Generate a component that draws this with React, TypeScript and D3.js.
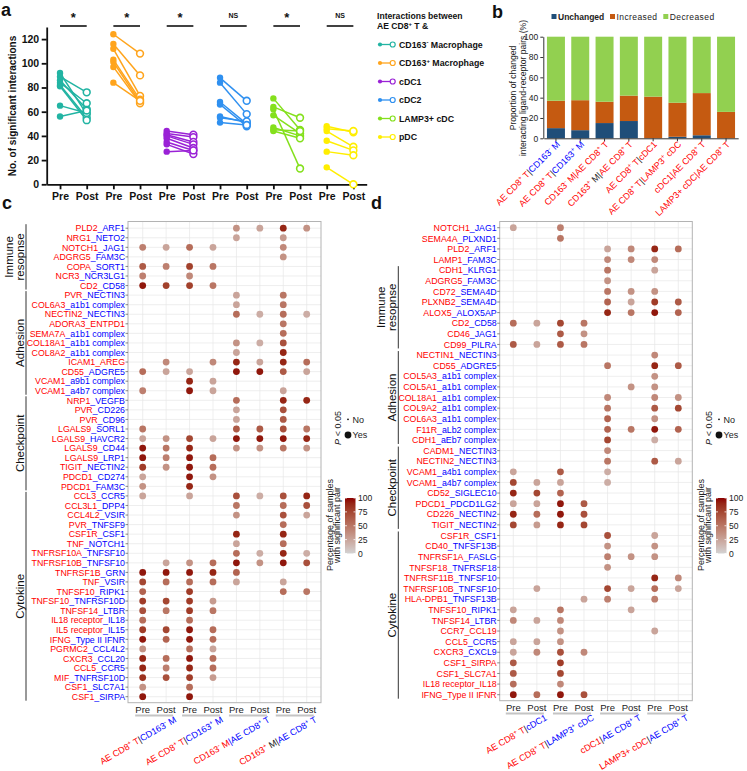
import React, { useEffect, useRef } from "react";
import * as d3 from "d3";

const W = 747;
const H = 771;
const FONT = "'Liberation Sans', Arial, Helvetica, sans-serif";
const RED = "#ff0000";
const BLUE = "#0000ff";

// ---- panel a ----
const groupNames = ["CD163^- Macrophage", "CD163^+ Macrophage", "cDC1", "cDC2", "LAMP3+ cDC", "pDC"];
const groupColors = ["#22b4a3", "#ffa41c", "#9a22d6", "#2f90f0", "#84e01c", "#ffee00"];
const preValues = [
  [92, 89, 86, 84, 82, 81, 65, 56],
  [124, 116, 112, 103, 101, 97, 84],
  [44, 42, 41, 40, 38, 35, 33, 27],
  [88, 84, 68, 66, 56, 55, 51],
  [71, 64, 62, 57, 47, 45, 44],
  [48, 46, 44, 36, 27, 14],
];
const postValues = [
  [58, 76, 62, 67, 55, 53, 59, 61],
  [108, 90, 73, 70, 68, 67, 69],
  [41, 39, 35, 33, 30, 28, 25, 28],
  [69, 58, 50, 48, 51, 52, 49],
  [45, 55, 13, 42, 40, 44, 38],
  [43, 44, 31, 28, 24, 0],
];
const sigLabels = ["*", "*", "*", "NS", "*", "NS"];

// ---- panel b ----
const bLabels = [
  "[r]AE CD8^+ T[k]|[b]CD163^- M",
  "[r]AE CD8^+ T[k]|[b]CD163^+ M",
  "[r]CD163^- M|AE CD8^+ T",
  "[r]CD163^+[k] M|[r]AE CD8^+ T",
  "[r]AE CD8^+ T[k]|[r]cDC1",
  "[r]AE CD8^+ T[k]|[r]LAMP3^+ cDC",
  "[r]cDC1|AE CD8^+ T",
  "[r]LAMP3+ cDC|AE CD8^+ T",
];
const unchanged = [10, 8, 15, 17, 0, 1.5, 3, 0];
const increased = [27, 29.5, 21, 25, 41, 33.5, 41.5, 26];
const decreased = [63, 62.5, 64, 58, 59, 65, 55.5, 74];
const stackKeys = ["Unchanged", "Increased", "Decreased"];
const stackColors = ["#1f4e79", "#c55a11", "#92d050"];

// ---- panel c ----
const cRows = ["PLD2_ARF1", "NRG1_NETO2", "NOTCH1_JAG1", "ADGRG5_FAM3C", "COPA_SORT1", "NCR3_NCR3LG1", "CD2_CD58",
  "PVR_NECTIN3", "COL6A3_a1b1 complex", "NECTIN2_NECTIN3", "ADORA3_ENTPD1", "SEMA7A_a1b1 complex", "COL18A1_a1b1 complex",
  "COL8A2_a1b1 complex", "ICAM1_AREG", "CD55_ADGRE5", "VCAM1_a9b1 complex", "VCAM1_a4b7 complex", "NRP1_VEGFB",
  "PVR_CD226", "PVR_CD96", "LGALS9_SORL1", "LGALS9_HAVCR2", "LGALS9_CD44", "LGALS9_LRP1", "TIGIT_NECTIN2",
  "PDCD1_CD274", "PDCD1_FAM3C", "CCL3_CCR5", "CCL3L1_DPP4", "CCL4L2_VSIR", "PVR_TNFSF9", "CSF1R_CSF1", "TNF_NOTCH1",
  "TNFRSF10A_TNFSF10", "TNFRSF10B_TNFSF10", "TNFRSF1B_GRN", "TNF_VSIR", "TNFSF10_RIPK1", "TNFSF10_TNFRSF10D",
  "TNFSF14_LTBR", "IL18 receptor_IL18", "IL5 receptor_IL15", "IFNG_Type II IFNR", "PGRMC2_CCL4L2", "CXCR3_CCL20",
  "CCL5_CCR5", "MIF_TNFRSF10D", "CSF1_SLC7A1", "CSF1_SIRPA"];
const cAllRed = ["ADORA3_ENTPD1", "ICAM1_AREG"];
// percentage of samples with significant pair, 8 columns (Pre/Post x 4 pairs), 0 = no dot
const cPct = [
  [0, 0, 0, 0, 35, 25, 90, 35],
  [0, 0, 0, 0, 25, 0, 30, 0],
  [45, 25, 55, 25, 0, 0, 40, 0],
  [0, 0, 0, 0, 0, 0, 35, 0],
  [65, 45, 78, 50, 0, 0, 0, 0],
  [45, 0, 40, 0, 0, 0, 0, 0],
  [95, 78, 78, 50, 0, 0, 0, 0],
  [0, 0, 0, 0, 25, 0, 50, 0],
  [0, 0, 0, 0, 25, 0, 50, 0],
  [0, 0, 0, 0, 55, 20, 55, 20],
  [0, 0, 0, 0, 0, 0, 50, 0],
  [0, 0, 0, 0, 0, 0, 55, 0],
  [0, 0, 0, 0, 35, 20, 70, 0],
  [0, 0, 0, 0, 25, 0, 90, 0],
  [0, 40, 0, 40, 90, 25, 90, 55],
  [55, 25, 25, 0, 95, 95, 65, 25],
  [0, 0, 90, 25, 0, 0, 0, 0],
  [45, 0, 95, 25, 0, 0, 25, 0],
  [0, 0, 0, 0, 55, 0, 90, 90],
  [0, 0, 0, 0, 25, 0, 70, 0],
  [0, 0, 0, 0, 25, 0, 65, 0],
  [50, 0, 0, 0, 65, 65, 70, 50],
  [25, 35, 75, 25, 95, 95, 95, 90],
  [95, 50, 90, 0, 35, 35, 50, 35],
  [95, 45, 95, 55, 0, 0, 0, 0],
  [80, 35, 95, 55, 0, 0, 0, 0],
  [25, 0, 95, 35, 0, 0, 0, 0],
  [35, 0, 90, 0, 0, 0, 0, 0],
  [25, 0, 25, 0, 70, 20, 70, 90],
  [0, 0, 0, 0, 50, 0, 55, 70],
  [0, 0, 0, 0, 35, 0, 70, 25],
  [0, 0, 0, 0, 0, 0, 55, 0],
  [0, 0, 0, 0, 90, 0, 90, 0],
  [0, 0, 0, 0, 25, 0, 55, 0],
  [0, 0, 0, 0, 55, 20, 90, 20],
  [0, 25, 35, 55, 95, 35, 95, 70],
  [95, 95, 95, 90, 60, 0, 0, 0],
  [75, 55, 55, 55, 25, 0, 25, 0],
  [60, 0, 80, 0, 0, 0, 55, 50],
  [80, 75, 80, 30, 0, 0, 0, 0],
  [70, 50, 80, 50, 0, 0, 0, 0],
  [55, 0, 55, 0, 0, 0, 0, 0],
  [80, 75, 95, 55, 0, 0, 0, 0],
  [95, 60, 95, 55, 0, 0, 0, 0],
  [35, 0, 55, 25, 0, 0, 0, 0],
  [90, 55, 95, 55, 0, 0, 0, 0],
  [90, 45, 90, 55, 0, 0, 0, 0],
  [85, 70, 80, 30, 0, 0, 0, 0],
  [35, 0, 55, 0, 0, 0, 0, 0],
  [95, 0, 95, 0, 0, 0, 0, 0],
];
const cGroups = [
  { name: ["Immune", "resopnse"], from: 0, to: 6 },
  { name: ["Adhesion"], from: 7, to: 17 },
  { name: ["Checkpoint"], from: 18, to: 27 },
  { name: ["Cytokine"], from: 28, to: 49 },
];
const cColLabels = [
  "[r]AE CD8^+ T[k]|[b]CD163^- M",
  "[r]AE CD8^+ T[k]|[b]CD163^+ M",
  "[r]CD163^- M[b]|AE CD8^+ T",
  "[r]CD163^+[k] M|[b]AE CD8^+ T",
];

// ---- panel d ----
const dRows = ["NOTCH1_JAG1", "SEMA4A_PLXND1", "PLD2_ARF1", "LAMP1_FAM3C", "CDH1_KLRG1", "ADGRG5_FAM3C", "CD72_SEMA4D",
  "PLXNB2_SEMA4D", "ALOX5_ALOX5AP", "CD2_CD58", "CD46_JAG1", "CD99_PILRA", "NECTIN1_NECTIN3", "CD55_ADGRE5",
  "COL5A3_a1b1 complex", "COL5A1_a1b1 complex", "COL18A1_a1b1 complex", "COL9A2_a1b1 complex", "COL6A3_a1b1 complex",
  "F11R_aLb2 complex", "CDH1_aEb7 complex", "CADM1_NECTIN3", "NECTIN2_NECTIN3", "VCAM1_a4b1 complex",
  "VCAM1_a4b7 complex", "CD52_SIGLEC10", "PDCD1_PDCD1LG2", "CD226_NECTIN2", "TIGIT_NECTIN2", "CSF1R_CSF1",
  "CD40_TNFSF13B", "TNFRSF1A_FASLG", "TNFSF18_TNFRSF18", "TNFRSF11B_TNFSF10", "TNFRSF10B_TNFSF10",
  "HLA-DPB1_TNFSF13B", "TNFSF10_RIPK1", "TNFSF14_LTBR", "CCR7_CCL19", "CCL5_CCR5", "CXCR3_CXCL9", "CSF1_SIRPA",
  "CSF1_SLC7A1", "IL18 receptor_IL18", "IFNG_Type II IFNR"];
const dAllRed = ["CCR7_CCL19", "CSF1_SIRPA", "CSF1_SLC7A1", "IL18 receptor_IL18", "IFNG_Type II IFNR"];
const dPct = [
  [25, 0, 45, 0, 0, 0, 0, 0],
  [0, 0, 50, 0, 0, 0, 0, 0],
  [0, 0, 0, 0, 25, 40, 90, 55],
  [0, 0, 0, 0, 40, 40, 40, 0],
  [0, 0, 0, 0, 50, 0, 25, 0],
  [0, 0, 0, 0, 35, 0, 0, 0],
  [0, 0, 0, 0, 50, 35, 35, 0],
  [0, 0, 0, 0, 60, 25, 80, 65],
  [0, 0, 0, 0, 90, 50, 95, 60],
  [55, 25, 75, 50, 0, 0, 0, 0],
  [0, 0, 65, 35, 0, 0, 0, 0],
  [65, 25, 65, 50, 0, 0, 0, 0],
  [0, 0, 0, 0, 0, 0, 40, 0],
  [0, 0, 0, 0, 50, 0, 90, 65],
  [0, 0, 0, 0, 0, 0, 35, 0],
  [0, 0, 0, 0, 0, 35, 35, 0],
  [0, 0, 0, 0, 40, 0, 40, 35],
  [0, 0, 0, 0, 50, 0, 65, 75],
  [0, 0, 0, 0, 60, 0, 35, 0],
  [0, 0, 0, 0, 60, 50, 95, 60],
  [0, 0, 0, 0, 75, 0, 20, 0],
  [0, 0, 0, 0, 40, 0, 0, 0],
  [0, 0, 0, 0, 50, 0, 65, 25],
  [25, 0, 65, 0, 20, 0, 0, 0],
  [75, 25, 25, 0, 20, 0, 0, 0],
  [90, 75, 60, 0, 0, 0, 0, 0],
  [25, 25, 95, 65, 0, 0, 0, 0],
  [90, 55, 95, 70, 0, 0, 0, 0],
  [75, 30, 90, 75, 0, 0, 0, 0],
  [0, 0, 0, 0, 70, 0, 25, 0],
  [0, 0, 0, 0, 35, 0, 35, 0],
  [0, 0, 0, 0, 45, 35, 35, 0],
  [0, 0, 0, 0, 35, 0, 0, 0],
  [0, 0, 0, 0, 0, 0, 90, 40],
  [0, 25, 0, 0, 75, 25, 55, 25],
  [0, 0, 0, 25, 45, 0, 45, 0],
  [25, 0, 50, 0, 0, 25, 0, 0],
  [40, 25, 40, 0, 0, 0, 0, 0],
  [0, 0, 35, 0, 0, 0, 25, 0],
  [25, 25, 35, 0, 0, 0, 0, 0],
  [25, 40, 70, 40, 0, 0, 0, 0],
  [65, 0, 80, 0, 0, 0, 0, 0],
  [65, 0, 75, 0, 0, 0, 0, 0],
  [55, 0, 40, 0, 0, 0, 0, 0],
  [95, 55, 95, 70, 0, 0, 0, 0],
];
const dGroups = [
  { name: ["Immune", "resopnse"], from: 4, to: 11 },
  { name: ["Adhesion"], from: 12, to: 20 },
  { name: ["Checkpoint"], from: 21, to: 28 },
  { name: ["Cytokine"], from: 29, to: 44 },
];
const dColLabels = [
  "[r]AE CD8^+ T[k]|[b]cDC1",
  "[r]AE CD8^+ T[k]|[b]LAMP3^+ cDC",
  "[r]cDC1[k]|[b]AE CD8^+ T",
  "[r]LAMP3+ cDC[k]|[b]AE CD8^+ T",
];
const prePost = ["Pre", "Post"];
const legendTicks = [0, 25, 50, 75, 100];

const pctColor = d3.scaleLinear<string>().domain([0, 100]).range(["#d3d3d3", "#8b0000"]).interpolate(d3.interpolateLab);

// [r] [b] [k] switch colour, ^x makes x a superscript
function addRich(text: any, markup: string, fs: number, defColor = "#222") {
  let color = defColor;
  let raised = false;
  const parts = markup.split(/(\[[rbk]\]|\^.)/).filter((s) => s.length);
  parts.forEach((p) => {
    if (/^\[[rbk]\]$/.test(p)) {
      color = p[1] === "r" ? RED : p[1] === "b" ? BLUE : "#222";
      return;
    }
    if (p[0] === "^") {
      const ts = text.append("tspan").text(p[1]).attr("fill", color).attr("font-size", fs * 0.68);
      if (!raised) ts.attr("dy", -fs * 0.38);
      raised = true;
      return;
    }
    const ts = text.append("tspan").text(p).attr("fill", color);
    if (raised) ts.attr("dy", fs * 0.38);
    raised = false;
  });
}

function drawA(svg: any) {
  const g = svg.append("g");
  const x = d3.scaleLinear().domain([-0.5, 11.5]).range([46.7, 366.7]);
  const y = d3.scaleLinear().domain([0, 130]).range([184.3, 27]);

  const ya = g.append("g").attr("transform", "translate(46.7,0)")
    .call(d3.axisLeft(y).tickValues(d3.range(0, 121, 20)).tickSize(5).tickSizeOuter(0).tickPadding(2.5));
  const xa = g.append("g").attr("transform", "translate(0,184.3)")
    .call(d3.axisBottom(x).tickValues(d3.range(12)).tickFormat((i: any) => prePost[+i % 2]).tickSize(5).tickSizeOuter(0).tickPadding(3));
  [ya, xa].forEach((a) => {
    a.attr("font-family", FONT);
    a.select(".domain").attr("stroke-width", 1.8).attr("stroke", "#111");
    a.selectAll(".tick line").attr("stroke-width", 1.8).attr("stroke", "#111");
    a.selectAll(".tick text").attr("font-size", 10.5).attr("font-weight", "bold").attr("fill", "#111");
  });

  g.append("text")
    .attr("transform", "translate(15.5,106) rotate(-90)")
    .attr("text-anchor", "middle").attr("font-size", 10).attr("font-weight", "bold").attr("fill", "#111")
    .text("No. of significant interactions");

  groupColors.forEach((col, gi) => {
    const x0 = x(gi * 2);
    const x1 = x(gi * 2 + 1);
    const pre = preValues[gi];
    const post = postValues[gi];
    pre.forEach((v, k) => {
      g.append("line").attr("x1", x0).attr("y1", y(v)).attr("x2", x1).attr("y2", y(post[k]))
        .attr("stroke", col).attr("stroke-width", 1.5);
    });
    pre.forEach((v) => {
      g.append("circle").attr("cx", x0).attr("cy", y(v)).attr("r", 3.2).attr("fill", col);
    });
    post.forEach((v) => {
      g.append("circle").attr("cx", x1).attr("cy", y(v)).attr("r", 3.4).attr("fill", "white")
        .attr("stroke", col).attr("stroke-width", 1.6);
    });
    // significance bar
    g.append("line").attr("x1", x0).attr("x2", x1).attr("y1", 26).attr("y2", 26)
      .attr("stroke", "#111").attr("stroke-width", 1.6);
    const star = sigLabels[gi] === "*";
    g.append("text").attr("x", (x0 + x1) / 2).attr("y", star ? 22 : 17.5).attr("text-anchor", "middle")
      .attr("font-size", star ? 13 : 7).attr("font-weight", "bold").attr("fill", "#111").text(sigLabels[gi]);
  });

  // legend
  const lg = svg.append("g").attr("font-family", FONT).attr("font-weight", "bold").attr("fill", "#111");
  lg.append("text").attr("x", 377).attr("y", 19).attr("font-size", 8.6).text("Interactions between");
  addRich(lg.append("text").attr("x", 377).attr("y", 29).attr("font-size", 8.6), "AE CD8^+ T &", 8.6, "#111");
  groupNames.forEach((nm, i) => {
    const yy = 44.5 + i * 18.5;
    lg.append("line").attr("x1", 380).attr("x2", 392.7).attr("y1", yy).attr("y2", yy)
      .attr("stroke", groupColors[i]).attr("stroke-width", 1.3);
    lg.append("circle").attr("cx", 380).attr("cy", yy).attr("r", 2.1).attr("fill", groupColors[i]);
    lg.append("circle").attr("cx", 392.7).attr("cy", yy).attr("r", 2.5).attr("fill", "white")
      .attr("stroke", groupColors[i]).attr("stroke-width", 1.2);
    addRich(lg.append("text").attr("x", 399).attr("y", yy + 3.2).attr("font-size", 8.8), nm, 8.8, "#111");
  });
}

function drawB(svg: any) {
  const g = svg.append("g").attr("font-family", FONT);
  const x = d3.scaleBand<number>().domain(d3.range(8)).range([543.8, 738.2]).paddingInner(0.26).paddingOuter(0.13);
  const y = d3.scaleLinear().domain([0, 100]).range([138.3, 36.7]);
  const table = d3.range(8).map((i) => ({ i, Unchanged: unchanged[i], Increased: increased[i], Decreased: decreased[i] }));
  const series = d3.stack<any>().keys(stackKeys)(table);
  series.forEach((s, k) => {
    g.selectAll(null).data(s).enter().append("rect")
      .attr("x", (d: any) => x(d.data.i))
      .attr("width", x.bandwidth())
      .attr("y", (d: any) => y(d[1]))
      .attr("height", (d: any) => y(d[0]) - y(d[1]))
      .attr("fill", stackColors[k]);
  });
  const ya = g.append("g").attr("transform", "translate(543.3,0)")
    .call(d3.axisLeft(y).tickValues(d3.range(0, 101, 20)).tickSize(3).tickSizeOuter(0).tickPadding(2));
  const xa = g.append("g").attr("transform", "translate(0,138.3)")
    .call(d3.axisBottom(x).tickSize(3).tickSizeOuter(0).tickFormat(() => ""));
  [ya, xa].forEach((a) => {
    a.attr("font-family", FONT);
    a.select(".domain").attr("stroke", "#333");
    a.selectAll(".tick line").attr("stroke", "#333");
    a.selectAll(".tick text").attr("font-size", 8.5).attr("fill", "#222");
  });
  bLabels.forEach((lab, i) => {
    const cx = (x(i) as number) + x.bandwidth() / 2 + 4.5;
    const t = g.append("text").attr("transform", `translate(${cx},145) rotate(-45)`)
      .attr("text-anchor", "end").attr("font-size", 9);
    addRich(t, lab, 9);
  });
  const yl = g.append("text").attr("transform", "translate(516,88) rotate(-90)")
    .attr("text-anchor", "middle").attr("font-size", 8.6).attr("fill", "#222");
  yl.append("tspan").attr("x", 0).attr("y", 0).text("Proportion of changed");
  yl.append("tspan").attr("x", 0).attr("y", 9.6).text("interacting ligand-receptor pairs (%)");

  const legX = [551.5, 610, 663.3];
  stackKeys.forEach((k, i) => {
    g.append("rect").attr("x", legX[i]).attr("y", 14).attr("width", 5).attr("height", 5).attr("fill", stackColors[i]);
    g.append("text").attr("x", legX[i] + 6.5).attr("y", 19.5).attr("font-size", 8.5)
      .attr("font-weight", i === 0 ? "bold" : "normal").attr("letter-spacing", i === 0 ? 0 : 0.4)
      .attr("fill", "#222").text(k);
  });
}

function rowMarkup(label: string, allRed: string[]) {
  if (allRed.includes(label)) return "[r]" + label;
  const k = label.indexOf("_");
  return "[r]" + label.slice(0, k) + "[b]" + label.slice(k);
}

function drawDots(svg: any, cfg: any) {
  const g = svg.append("g").attr("font-family", FONT);
  const x = d3.scalePoint<number>().domain(d3.range(8)).range([cfg.x0, cfg.x1]);
  const y = d3.scalePoint<string>().domain(cfg.rows).range([cfg.y0, cfg.y1]);

  // grid
  cfg.rows.forEach((r: string) => {
    g.append("line").attr("x1", cfg.fx0).attr("x2", cfg.fx1).attr("y1", y(r)).attr("y2", y(r))
      .attr("stroke", "#e6e6e6").attr("stroke-width", 0.7);
  });
  d3.range(8).forEach((c) => {
    g.append("line").attr("x1", x(c)).attr("x2", x(c)).attr("y1", cfg.fy0).attr("y2", cfg.fy1)
      .attr("stroke", "#e6e6e6").attr("stroke-width", 0.7);
  });
  g.append("rect").attr("x", cfg.fx0).attr("y", cfg.fy0).attr("width", cfg.fx1 - cfg.fx0)
    .attr("height", cfg.fy1 - cfg.fy0).attr("fill", "none").attr("stroke", "#b3b3b3").attr("stroke-width", 1);

  // dots
  cfg.rows.forEach((r: string, ri: number) => {
    cfg.pct[ri].forEach((v: number, c: number) => {
      if (!v) return;
      g.append("circle").attr("cx", x(c)).attr("cy", y(r)).attr("r", 3.4).attr("fill", pctColor(v));
    });
  });

  // row labels
  cfg.rows.forEach((r: string) => {
    g.append("line").attr("x1", cfg.fx0 - 2.5).attr("x2", cfg.fx0).attr("y1", y(r)).attr("y2", y(r))
      .attr("stroke", "#555").attr("stroke-width", 0.7);
    const t = g.append("text").attr("x", cfg.fx0 - 3).attr("y", (y(r) as number) + 3.2)
      .attr("text-anchor", "end").attr("font-size", 8.8);
    addRich(t, rowMarkup(r, cfg.allRed), 8.8);
  });

  // category groups
  cfg.groups.forEach((gr: any) => {
    const a = (y(cfg.rows[gr.from]) as number) - 4;
    const b = (y(cfg.rows[gr.to]) as number) + 4;
    g.append("line").attr("x1", cfg.gx).attr("x2", cfg.gx).attr("y1", a).attr("y2", b)
      .attr("stroke", "#333").attr("stroke-width", 1);
    const mid = (a + b) / 2;
    gr.name.forEach((nm: string, k: number) => {
      const bx = cfg.gx - 2 - (gr.name.length - 1 - k) * 11.5;
      g.append("text").attr("transform", `translate(${bx},${mid}) rotate(-90)`)
        .attr("text-anchor", "middle").attr("font-size", 11.5).attr("fill", "#111").text(nm);
    });
  });

  // x axis: Pre / Post and pair labels
  d3.range(8).forEach((c) => {
    g.append("text").attr("x", x(c)).attr("y", cfg.preY).attr("text-anchor", "middle")
      .attr("font-size", 9.5).attr("fill", "#222").text(prePost[c % 2]);
  });
  cfg.colLabels.forEach((lab: string, k: number) => {
    const a = x(2 * k) as number;
    const b = x(2 * k + 1) as number;
    g.append("line").attr("x1", a - 7.5).attr("x2", b + 7).attr("y1", cfg.preY + 3).attr("y2", cfg.preY + 3)
      .attr("stroke", "#c4c4c4").attr("stroke-width", 2);
    const t = g.append("text").attr("transform", `translate(${(a + b) / 2 + 22.5},${cfg.labY}) rotate(-30)`)
      .attr("text-anchor", "end").attr("font-size", 9);
    addRich(t, lab, 9);
  });

  // legends
  const lx = cfg.legX;
  const pt = g.append("text").attr("transform", `translate(${lx - 4.5},428) rotate(-90)`)
    .attr("text-anchor", "middle").attr("font-size", 9).attr("fill", "#222");
  pt.append("tspan").attr("font-style", "italic").text("P");
  pt.append("tspan").text(" < 0.05");
  g.append("circle").attr("cx", lx + 3).attr("cy", 419.3).attr("r", 0.9).attr("fill", "#111");
  g.append("circle").attr("cx", lx + 3).attr("cy", 435).attr("r", 3.4).attr("fill", "#111");
  g.append("text").attr("x", lx + 7.5).attr("y", 422.5).attr("font-size", 9).attr("fill", "#222").text("No");
  g.append("text").attr("x", lx + 7.5).attr("y", 438.2).attr("font-size", 9).attr("fill", "#222").text("Yes");

  const gid = "grad" + cfg.id;
  const grad = svg.append("defs").append("linearGradient").attr("id", gid)
    .attr("x1", 0).attr("y1", 1).attr("x2", 0).attr("y2", 0);
  d3.range(0, 101, 10).forEach((v) => {
    grad.append("stop").attr("offset", v / 100).attr("stop-color", pctColor(v));
  });
  const cb = d3.scaleLinear().domain([0, 100]).range([553.5, 498]);
  g.append("rect").attr("x", lx).attr("y", cb(100)).attr("width", 10.5).attr("height", cb(0) - cb(100))
    .attr("fill", `url(#${gid})`);
  legendTicks.forEach((v) => {
    g.append("line").attr("x1", lx).attr("x2", lx + 2).attr("y1", cb(v)).attr("y2", cb(v)).attr("stroke", "white").attr("stroke-width", 0.8);
    g.append("line").attr("x1", lx + 8.5).attr("x2", lx + 10.5).attr("y1", cb(v)).attr("y2", cb(v)).attr("stroke", "white").attr("stroke-width", 0.8);
    g.append("text").attr("x", lx + 13).attr("y", cb(v) + 3.2).attr("font-size", 8.6).attr("fill", "#222").text(v);
  });
  const tt = g.append("text").attr("transform", `translate(${lx - 12.5},525) rotate(-90)`)
    .attr("text-anchor", "middle").attr("font-size", 9).attr("fill", "#222");
  tt.append("tspan").attr("x", 0).attr("y", 0).text("Percentage of samples");
  tt.append("tspan").attr("x", 0).attr("y", 7.8).text("with significant pair");
}

const App: React.FC = () => {
  const ref = useRef<SVGSVGElement>(null);

  useEffect(() => {
    if (!ref.current) return;
    const svg = d3.select(ref.current);
    svg.selectAll("*").remove();
    svg.attr("width", W).attr("height", H).style("font-family", FONT);
    svg.append("rect").attr("width", W).attr("height", H).attr("fill", "white");

    drawA(svg);
    drawB(svg);
    drawDots(svg, {
      id: "c", rows: cRows, pct: cPct, allRed: cAllRed, groups: cGroups, colLabels: cColLabels,
      x0: 142.7, x1: 306.7, y0: 228.2, y1: 696.7, fx0: 128, fx1: 321, fy0: 221.5, fy1: 702.7,
      gx: 26, preY: 712.5, labY: 721.5, legX: 345,
    });
    drawDots(svg, {
      id: "d", rows: dRows, pct: dPct, allRed: dAllRed, groups: dGroups, colLabels: dColLabels,
      x0: 513.3, x1: 678.3, y0: 227.7, y1: 694.7, fx0: 499.7, fx1: 692.3, fy0: 221.5, fy1: 700.7,
      gx: 398.3, preY: 710.5, labY: 719.5, legX: 716,
    });

    const letters: [string, number, number][] = [["a", 1, 15.5], ["b", 492, 18], ["c", 2, 209], ["d", 371, 209]];
    letters.forEach(([t, lx, ly]) => {
      svg.append("text").attr("x", lx).attr("y", ly).attr("font-size", 18).attr("font-weight", "bold")
        .attr("font-family", FONT).attr("fill", "#111").text(t);
    });
  }, []);

  return <svg ref={ref} style={{ position: "absolute", left: 0, top: 0 }}></svg>;
};

export default App;
